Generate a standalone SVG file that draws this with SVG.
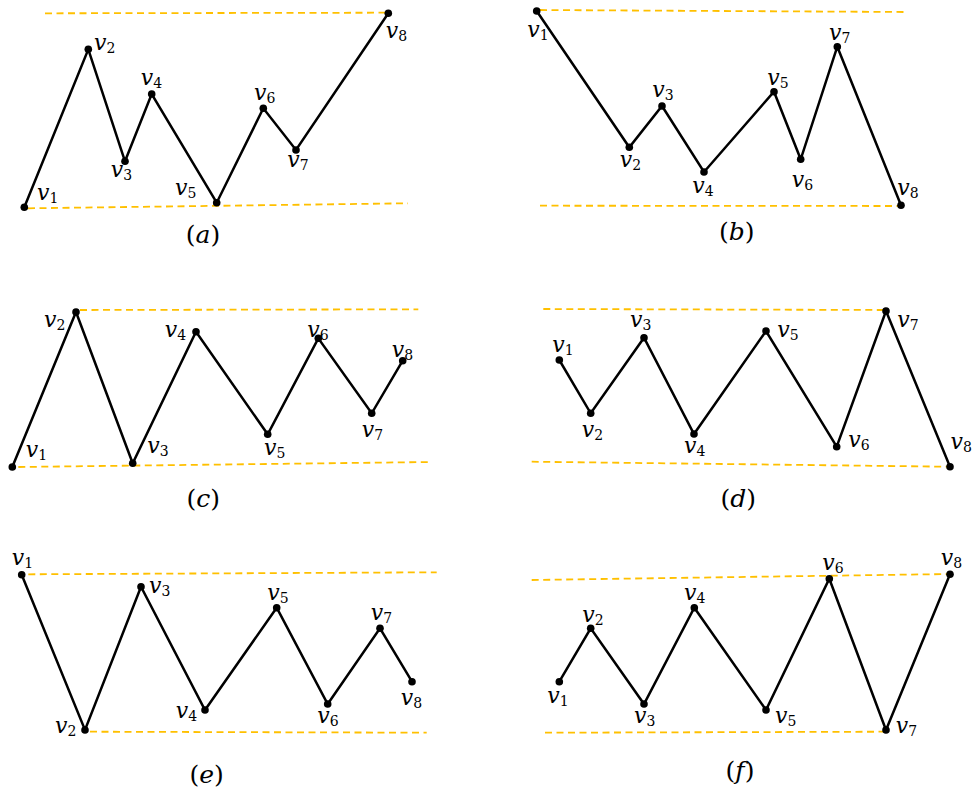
<svg xmlns="http://www.w3.org/2000/svg" width="973" height="789" viewBox="0 0 973 789">
<style>
.bg{fill:#fff}
.edge{fill:none;stroke:#000;stroke-width:2.5;stroke-linejoin:miter}
.bound{fill:none;stroke:#FFC000;stroke-width:1.8;stroke-dasharray:7 4.5}
.dot{fill:#000}
.lbl{font-family:"DejaVu Serif","Liberation Serif",serif;font-style:italic;font-size:22px;fill:#000}
.sub{font-style:normal;font-size:14px}
.cap{font-family:"DejaVu Serif","Liberation Serif",serif;font-size:25px;fill:#000;text-anchor:middle}
.it{font-style:italic}
</style>
<rect class="bg" width="973" height="789"/>
<g id="bounds">
<line class="bound" x1="45" y1="13.3" x2="388" y2="12.7"/>
<line class="bound" x1="28" y1="208.3" x2="408" y2="203.3"/>
<line class="bound" x1="540" y1="10" x2="905" y2="12"/>
<line class="bound" x1="540" y1="205.7" x2="898" y2="206"/>
<line class="bound" x1="80" y1="310" x2="418.3" y2="309.3"/>
<line class="bound" x1="18.3" y1="467" x2="430" y2="462"/>
<line class="bound" x1="543.3" y1="309" x2="885" y2="310"/>
<line class="bound" x1="531.7" y1="461.7" x2="948.3" y2="466.7"/>
<line class="bound" x1="28.3" y1="574.3" x2="436.7" y2="572.3"/>
<line class="bound" x1="90" y1="731.7" x2="426.7" y2="732.7"/>
<line class="bound" x1="531.7" y1="580" x2="950" y2="574"/>
<line class="bound" x1="545" y1="732.7" x2="886" y2="731.7"/>
</g>
<g id="connectors">
<polyline class="edge" points="24.3,207.3 88.3,49.3 125,161.3 151.7,94 216.7,202.7 263.3,108.3 296,150 388.3,13.3"/>
<polyline class="edge" points="536.7,11 629.3,147.3 662,106 704,172 774,91.7 800.7,159.3 837.3,46.7 901,205.3"/>
<polyline class="edge" points="12.3,467 76,312 132.7,463.3 196,331.7 267.7,434.3 318.3,338.3 371.7,413.3 402.7,360.7"/>
<polyline class="edge" points="559.3,360 590.7,413.3 644,337.7 694,434 766,331 836.7,446.7 886,311 950,466.7"/>
<polyline class="edge" points="21.7,574.7 85,730 141,586.7 205,710 276.7,607.7 327.7,704 380,628.3 412,681.7"/>
<polyline class="edge" points="559.3,681.7 590.7,628.3 644,704 694.3,607.7 766,710 829.3,578.7 886,730 950,574.3"/>
</g>
<!-- panel a -->
<g id="a-v1"><circle class="dot" cx="24.3" cy="207.3" r="3.8"/><text class="lbl" x="37" y="200">v<tspan class="sub" dy="3">1</tspan></text></g>
<g id="a-v2"><circle class="dot" cx="88.3" cy="49.3" r="3.8"/><text class="lbl" x="94" y="50">v<tspan class="sub" dy="3">2</tspan></text></g>
<g id="a-v3"><circle class="dot" cx="125" cy="161.3" r="3.8"/><text class="lbl" x="110.7" y="177">v<tspan class="sub" dy="3">3</tspan></text></g>
<g id="a-v4"><circle class="dot" cx="151.7" cy="94" r="3.8"/><text class="lbl" x="140.7" y="85">v<tspan class="sub" dy="3">4</tspan></text></g>
<g id="a-v5"><circle class="dot" cx="216.7" cy="202.7" r="3.8"/><text class="lbl" x="175" y="195">v<tspan class="sub" dy="3">5</tspan></text></g>
<g id="a-v6"><circle class="dot" cx="263.3" cy="108.3" r="3.8"/><text class="lbl" x="254" y="100">v<tspan class="sub" dy="3">6</tspan></text></g>
<g id="a-v7"><circle class="dot" cx="296" cy="150" r="3.8"/><text class="lbl" x="287.3" y="167">v<tspan class="sub" dy="3">7</tspan></text></g>
<g id="a-v8"><circle class="dot" cx="388.3" cy="13.3" r="3.8"/><text class="lbl" x="385.7" y="38.3">v<tspan class="sub" dy="3">8</tspan></text></g>
<!-- panel b -->
<g id="b-v1"><circle class="dot" cx="536.7" cy="11" r="3.8"/><text class="lbl" x="527.3" y="36.7">v<tspan class="sub" dy="3">1</tspan></text></g>
<g id="b-v2"><circle class="dot" cx="629.3" cy="147.3" r="3.8"/><text class="lbl" x="619.7" y="166.7">v<tspan class="sub" dy="3">2</tspan></text></g>
<g id="b-v3"><circle class="dot" cx="662" cy="106" r="3.8"/><text class="lbl" x="652.3" y="96.7">v<tspan class="sub" dy="3">3</tspan></text></g>
<g id="b-v4"><circle class="dot" cx="704" cy="172" r="3.8"/><text class="lbl" x="692.3" y="193.3">v<tspan class="sub" dy="3">4</tspan></text></g>
<g id="b-v5"><circle class="dot" cx="774" cy="91.7" r="3.8"/><text class="lbl" x="767.3" y="85">v<tspan class="sub" dy="3">5</tspan></text></g>
<g id="b-v6"><circle class="dot" cx="800.7" cy="159.3" r="3.8"/><text class="lbl" x="791.7" y="186.7">v<tspan class="sub" dy="3">6</tspan></text></g>
<g id="b-v7"><circle class="dot" cx="837.3" cy="46.7" r="3.8"/><text class="lbl" x="829" y="40">v<tspan class="sub" dy="3">7</tspan></text></g>
<g id="b-v8"><circle class="dot" cx="901" cy="205.3" r="3.8"/><text class="lbl" x="897.3" y="195">v<tspan class="sub" dy="3">8</tspan></text></g>
<!-- panel c -->
<g id="c-v1"><circle class="dot" cx="12.3" cy="467" r="3.8"/><text class="lbl" x="25.7" y="456.7">v<tspan class="sub" dy="3">1</tspan></text></g>
<g id="c-v2"><circle class="dot" cx="76" cy="312" r="3.8"/><text class="lbl" x="44" y="326.7">v<tspan class="sub" dy="3">2</tspan></text></g>
<g id="c-v3"><circle class="dot" cx="132.7" cy="463.3" r="3.8"/><text class="lbl" x="147.3" y="453.3">v<tspan class="sub" dy="3">3</tspan></text></g>
<g id="c-v4"><circle class="dot" cx="196" cy="331.7" r="3.8"/><text class="lbl" x="164.7" y="336.7">v<tspan class="sub" dy="3">4</tspan></text></g>
<g id="c-v5"><circle class="dot" cx="267.7" cy="434.3" r="3.8"/><text class="lbl" x="264" y="455">v<tspan class="sub" dy="3">5</tspan></text></g>
<g id="c-v6"><circle class="dot" cx="318.3" cy="338.3" r="3.8"/><text class="lbl" x="307.3" y="336.7">v<tspan class="sub" dy="3">6</tspan></text></g>
<g id="c-v7"><circle class="dot" cx="371.7" cy="413.3" r="3.8"/><text class="lbl" x="361.7" y="436.7">v<tspan class="sub" dy="3">7</tspan></text></g>
<g id="c-v8"><circle class="dot" cx="402.7" cy="360.7" r="3.8"/><text class="lbl" x="391.7" y="356.7">v<tspan class="sub" dy="3">8</tspan></text></g>
<!-- panel d -->
<g id="d-v1"><circle class="dot" cx="559.3" cy="360" r="3.8"/><text class="lbl" x="552.3" y="351.7">v<tspan class="sub" dy="3">1</tspan></text></g>
<g id="d-v2"><circle class="dot" cx="590.7" cy="413.3" r="3.8"/><text class="lbl" x="581.7" y="436.7">v<tspan class="sub" dy="3">2</tspan></text></g>
<g id="d-v3"><circle class="dot" cx="644" cy="337.7" r="3.8"/><text class="lbl" x="630" y="326.7">v<tspan class="sub" dy="3">3</tspan></text></g>
<g id="d-v4"><circle class="dot" cx="694" cy="434" r="3.8"/><text class="lbl" x="684" y="453.3">v<tspan class="sub" dy="3">4</tspan></text></g>
<g id="d-v5"><circle class="dot" cx="766" cy="331" r="3.8"/><text class="lbl" x="777.3" y="336.7">v<tspan class="sub" dy="3">5</tspan></text></g>
<g id="d-v6"><circle class="dot" cx="836.7" cy="446.7" r="3.8"/><text class="lbl" x="848.3" y="446.7">v<tspan class="sub" dy="3">6</tspan></text></g>
<g id="d-v7"><circle class="dot" cx="886" cy="311" r="3.8"/><text class="lbl" x="897.3" y="326.7">v<tspan class="sub" dy="3">7</tspan></text></g>
<g id="d-v8"><circle class="dot" cx="950" cy="466.7" r="3.8"/><text class="lbl" x="950.5" y="449.3">v<tspan class="sub" dy="3">8</tspan></text></g>
<!-- panel e -->
<g id="e-v1"><circle class="dot" cx="21.7" cy="574.7" r="3.8"/><text class="lbl" x="11.7" y="565">v<tspan class="sub" dy="3">1</tspan></text></g>
<g id="e-v2"><circle class="dot" cx="85" cy="730" r="3.8"/><text class="lbl" x="55" y="733.3">v<tspan class="sub" dy="3">2</tspan></text></g>
<g id="e-v3"><circle class="dot" cx="141" cy="586.7" r="3.8"/><text class="lbl" x="149" y="593.3">v<tspan class="sub" dy="3">3</tspan></text></g>
<g id="e-v4"><circle class="dot" cx="205" cy="710" r="3.8"/><text class="lbl" x="175.7" y="718.3">v<tspan class="sub" dy="3">4</tspan></text></g>
<g id="e-v5"><circle class="dot" cx="276.7" cy="607.7" r="3.8"/><text class="lbl" x="267.3" y="600">v<tspan class="sub" dy="3">5</tspan></text></g>
<g id="e-v6"><circle class="dot" cx="327.7" cy="704" r="3.8"/><text class="lbl" x="317.3" y="723.3">v<tspan class="sub" dy="3">6</tspan></text></g>
<g id="e-v7"><circle class="dot" cx="380" cy="628.3" r="3.8"/><text class="lbl" x="370.7" y="620">v<tspan class="sub" dy="3">7</tspan></text></g>
<g id="e-v8"><circle class="dot" cx="412" cy="681.7" r="3.8"/><text class="lbl" x="400.7" y="705">v<tspan class="sub" dy="3">8</tspan></text></g>
<!-- panel f -->
<g id="f-v1"><circle class="dot" cx="559.3" cy="681.7" r="3.8"/><text class="lbl" x="547.3" y="703.3">v<tspan class="sub" dy="3">1</tspan></text></g>
<g id="f-v2"><circle class="dot" cx="590.7" cy="628.3" r="3.8"/><text class="lbl" x="582.3" y="621.7">v<tspan class="sub" dy="3">2</tspan></text></g>
<g id="f-v3"><circle class="dot" cx="644" cy="704" r="3.8"/><text class="lbl" x="634" y="723.3">v<tspan class="sub" dy="3">3</tspan></text></g>
<g id="f-v4"><circle class="dot" cx="694.3" cy="607.7" r="3.8"/><text class="lbl" x="684" y="600">v<tspan class="sub" dy="3">4</tspan></text></g>
<g id="f-v5"><circle class="dot" cx="766" cy="710" r="3.8"/><text class="lbl" x="775" y="723.3">v<tspan class="sub" dy="3">5</tspan></text></g>
<g id="f-v6"><circle class="dot" cx="829.3" cy="578.7" r="3.8"/><text class="lbl" x="822.3" y="570">v<tspan class="sub" dy="3">6</tspan></text></g>
<g id="f-v7"><circle class="dot" cx="886" cy="730" r="3.8"/><text class="lbl" x="895.7" y="733.3">v<tspan class="sub" dy="3">7</tspan></text></g>
<g id="f-v8"><circle class="dot" cx="950" cy="574.3" r="3.8"/><text class="lbl" x="940.7" y="565">v<tspan class="sub" dy="3">8</tspan></text></g>
<g id="captions">
<text class="cap" x="203" y="243">(<tspan class="it">a</tspan>)</text>
<text class="cap" x="736.7" y="239.5">(<tspan class="it">b</tspan>)</text>
<text class="cap" x="203.3" y="507.3">(<tspan class="it">c</tspan>)</text>
<text class="cap" x="738.3" y="506.7">(<tspan class="it">d</tspan>)</text>
<text class="cap" x="206.7" y="783.3">(<tspan class="it">e</tspan>)</text>
<text class="cap" x="740" y="779">(<tspan class="it">f</tspan>)</text>
</g>
</svg>
